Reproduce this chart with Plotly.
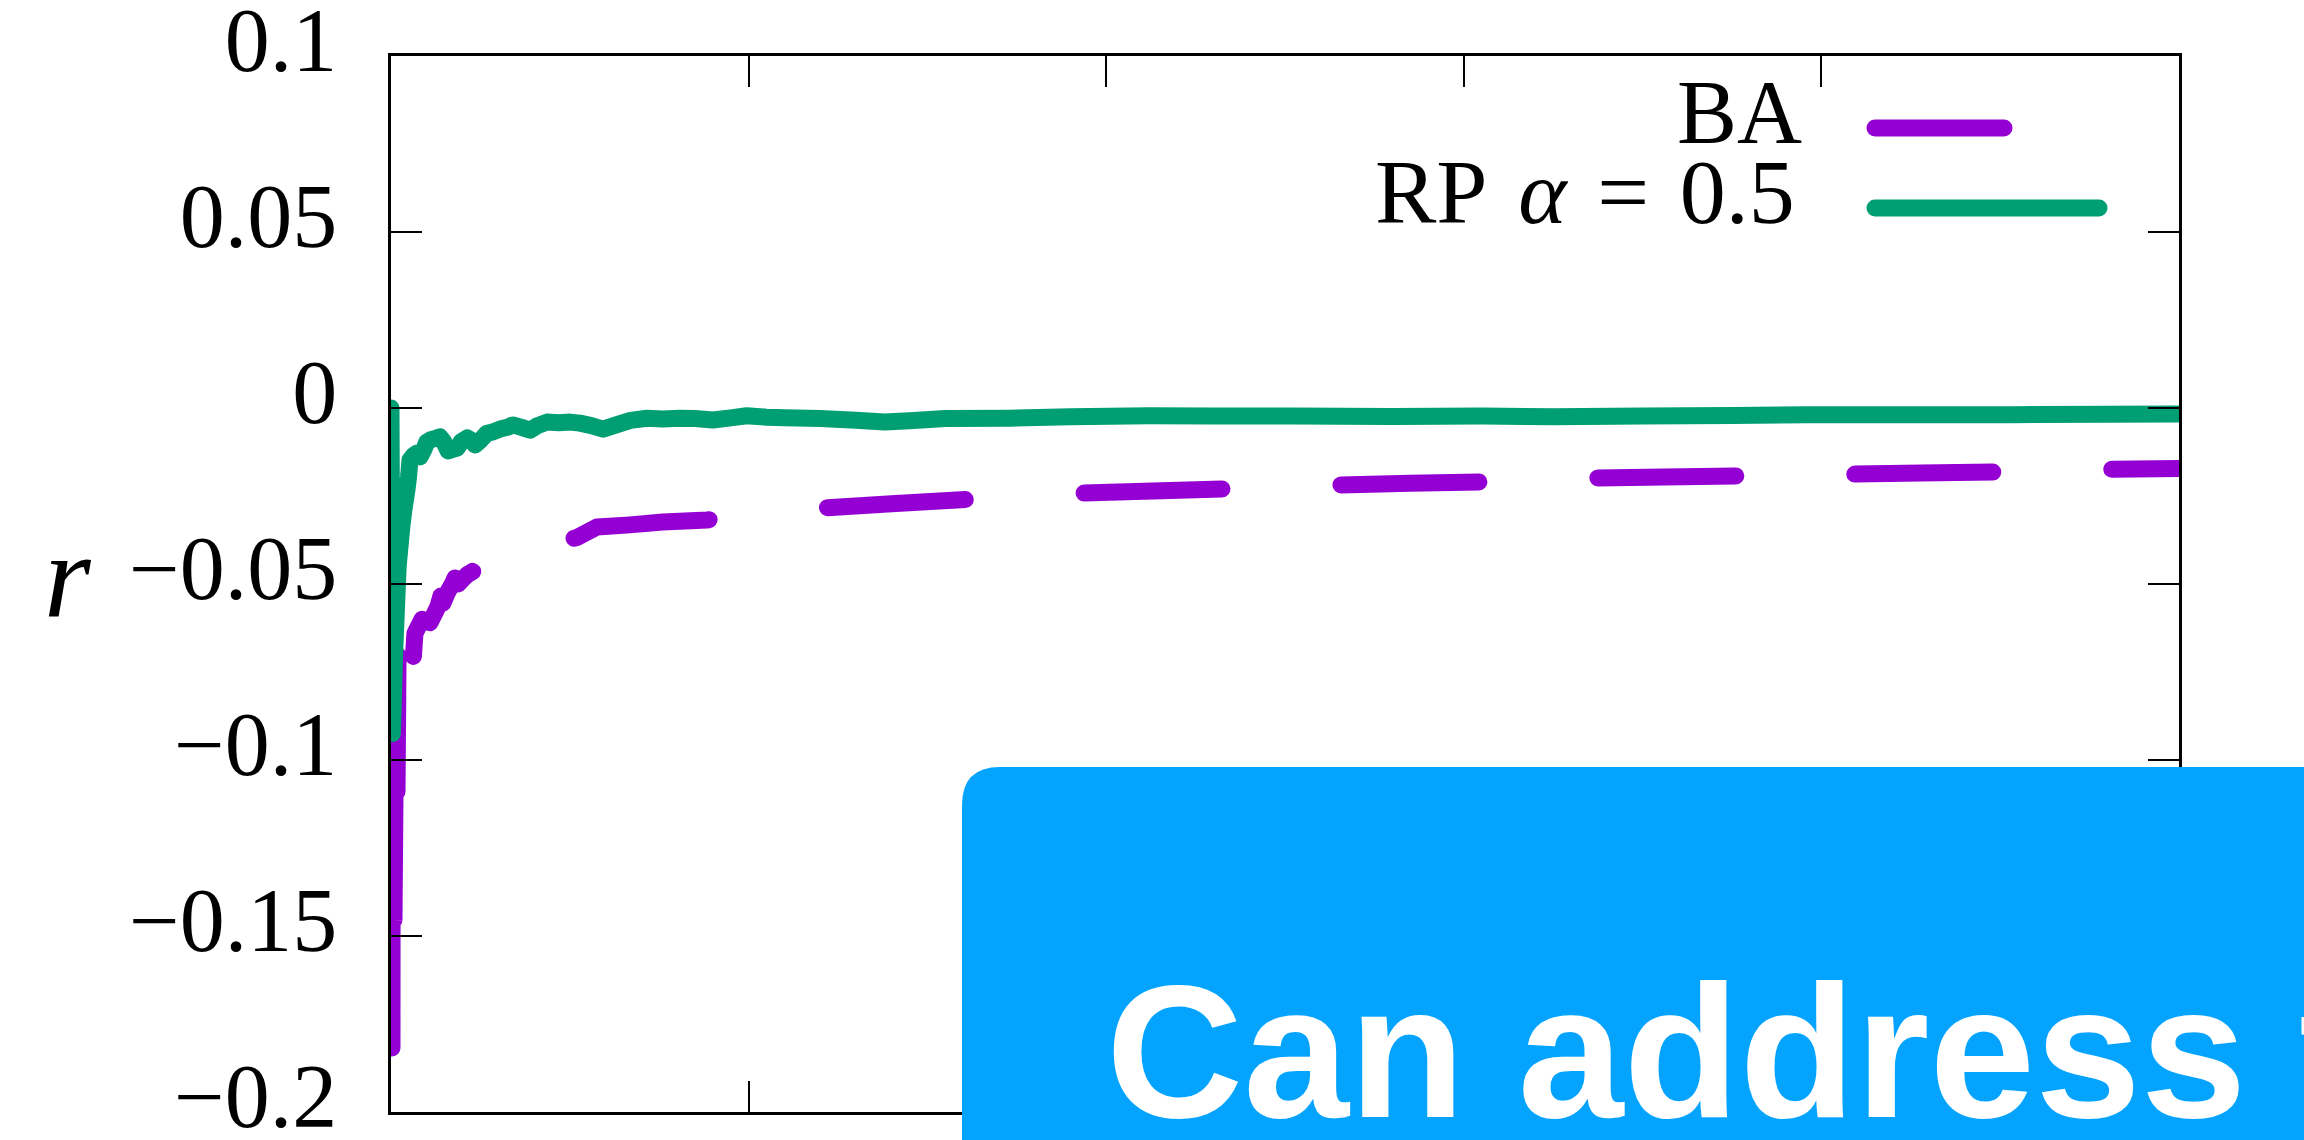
import plotly.graph_objects as go

# ---------------- data ----------------
x_ticks = [0, 1, 2, 3, 4, 5]
y_ticks = [-0.2, -0.15, -0.1, -0.05, 0, 0.05, 0.1]
y_ticktext = ["\u22120.2", "\u22120.15", "\u22120.1", "\u22120.05", "0", "0.05", "0.1"]

ba_x = [0.0028, 0.0030, 0.0056, 0.0084, 0.0112, 0.0140, 0.0168, 0.0196, 0.0224, 0.0252,
        0.0615, 0.067, 0.087, 0.109, 0.131, 0.1398, 0.1454, 0.157, 0.173, 0.179, 0.1874,
        0.2125, 0.26, 0.33, 0.3468, 0.3607, 0.3747, 0.40, 0.47, 0.52, 0.576, 0.668, 0.76,
        0.884, 1.0, 1.1, 1.21, 1.4, 1.61, 1.8, 1.93, 2.13, 2.33, 2.5, 2.64, 2.85, 3.05,
        3.2, 3.36, 3.56, 3.76, 3.9, 4.08, 4.28, 4.48, 4.65, 4.80, 5.0]
ba_y = [-0.1818, -0.1455, -0.1270, -0.1455, -0.1090, -0.0906, -0.1090, -0.0727, -0.0574, -0.0727,
        -0.0724, -0.064, -0.060, -0.061, -0.0565, -0.0534, -0.0554, -0.0526, -0.0497, -0.0483, -0.0500,
        -0.0474, -0.0445, -0.0415, -0.0410, -0.0378, -0.0402, -0.0395, -0.038, -0.0368, -0.0338, -0.0332, -0.0324,
        -0.0318, -0.0305, -0.0295, -0.0284, -0.0272, -0.026, -0.025, -0.0242, -0.0236, -0.023, -0.0224, -0.0219, -0.0214, -0.021,
        -0.0205, -0.0199, -0.0196, -0.0193, -0.019, -0.0188, -0.0185, -0.0182, -0.0178, -0.0174, -0.0172]

rp_x = [0, 0.004, 0.010, 0.020, 0.030, 0.036, 0.045, 0.049, 0.053, 0.063, 0.073, 0.081,
        0.092, 0.100, 0.112, 0.125, 0.137, 0.147, 0.160, 0.172, 0.185, 0.197, 0.213,
        0.225, 0.235, 0.25, 0.268, 0.285, 0.305, 0.325, 0.341, 0.365, 0.389, 0.41,
        0.436, 0.47, 0.50, 0.528, 0.56, 0.593, 0.63, 0.67, 0.716, 0.76, 0.808, 0.85,
        0.90, 0.95, 0.995, 1.05, 1.1, 1.2, 1.3, 1.38, 1.45, 1.55, 1.73, 1.9, 2.12,
        2.3, 2.52, 2.8, 3.05, 3.25, 3.5, 3.75, 3.96, 4.25, 4.53, 4.8, 5.0]
rp_y = [0, -0.0925, -0.070, -0.045, -0.034, -0.029, -0.023, -0.0196, -0.0148, -0.0135, -0.0128, -0.0139,
        -0.0118, -0.0097, -0.0090, -0.0086, -0.0082, -0.0095, -0.0122, -0.0118, -0.0114, -0.0095, -0.0085,
        -0.0092, -0.0105, -0.0092, -0.0072, -0.0068, -0.0060, -0.0055, -0.0048, -0.0055, -0.0063, -0.0050,
        -0.0040, -0.0042, -0.0040, -0.0043, -0.0050, -0.0060, -0.0048, -0.0035, -0.0029, -0.0031, -0.0029, -0.0030,
        -0.0034, -0.0028, -0.0022, -0.0026, -0.0028, -0.0030, -0.0035, -0.0040, -0.0036, -0.0030, -0.0029, -0.0025, -0.0022,
        -0.0023, -0.0023, -0.0024, -0.0023, -0.0025, -0.0023, -0.0021, -0.0019, -0.0019, -0.0019, -0.0018, -0.0017]

legend_labels = ["BA", "RP\u2004<i>\u03b1</i>\u2004=\u20040.5"]
overlay_text = "Can address the"

# ---------------- style ----------------
PURPLE = "#9400D3"
GREEN = "#009E73"
BLUE = "#03A3FE"
SERIF = "Liberation Serif"
LW = 17

W, H = 2304, 1140
L, R, T, B = 391, 2179, 56, 1112


def px_x(p):
    return (p - L) / (R - L)


def px_y(p):
    return (B - p) / (B - T)


fig = go.Figure()
fig.add_trace(go.Scatter(x=ba_x, y=ba_y, mode="lines", name="BA",
                         line=dict(color=PURPLE, width=LW, dash="138px,119px", simplify=False)))
fig.add_trace(go.Scatter(x=rp_x, y=rp_y, mode="lines", name="RP alpha = 0.5",
                         line=dict(color=GREEN, width=LW, simplify=False)))

axis_common = dict(showline=True, linecolor="black", linewidth=2.5, mirror="allticks",
                   ticks="inside", ticklen=31, tickwidth=2, tickcolor="black",
                   showgrid=False, zeroline=False, automargin=False)

fig.update_xaxes(range=[0, 5], tickvals=x_ticks, showticklabels=False, **axis_common)
fig.update_yaxes(range=[-0.2, 0.1], tickvals=y_ticks, ticktext=y_ticktext,
                 tickfont=dict(family=SERIF, size=90, color="black"),
                 ticklabelstandoff=33, ticklabelshift=-17, ticklabeloverflow="allow",
                 **axis_common)

shapes = []
# legend keys
shapes.append(dict(type="line", xref="paper", yref="paper",
                   x0=px_x(1875), x1=px_x(2004), y0=px_y(128), y1=px_y(128),
                   line=dict(color=PURPLE, width=LW)))
shapes.append(dict(type="line", xref="paper", yref="paper",
                   x0=px_x(1875), x1=px_x(2099), y0=px_y(208), y1=px_y(208),
                   line=dict(color=GREEN, width=LW)))
# overlay box with rounded top-left corner
bl, bt, br, bb = px_x(962), px_y(767), px_x(2400), px_y(1200)
rx, ry = 38 / (R - L), 38 / (B - T)
path = (f"M {bl},{bb} L {bl},{bt - ry} Q {bl},{bt} {bl + rx},{bt} "
        f"L {br},{bt} L {br},{bb} Z")
shapes.append(dict(type="path", xref="paper", yref="paper", path=path,
                   fillcolor=BLUE, line=dict(width=0), layer="above"))

annotations = [
    dict(text=legend_labels[0], xref="paper", yref="paper", x=px_x(1804), y=px_y(113),
         xanchor="right", yanchor="middle", showarrow=False,
         font=dict(family=SERIF, size=90, color="black")),
    dict(text=legend_labels[1], xref="paper", yref="paper", x=px_x(1797), y=px_y(192),
         xanchor="right", yanchor="middle", showarrow=False,
         font=dict(family=SERIF, size=92, color="black")),
    dict(text="<i>r</i>", xref="paper", yref="paper", x=px_x(68), y=px_y(576),
         xanchor="center", yanchor="middle", showarrow=False,
         font=dict(family=SERIF, size=120, color="black")),
    dict(text=overlay_text, xref="paper", yref="paper", x=px_x(1104), y=px_y(1051),
         xanchor="left", yanchor="middle", showarrow=False,
         font=dict(family="Liberation Sans", size=190, color="white", weight="bold")),
]

fig.update_layout(width=W, height=H, showlegend=False,
                  margin=dict(l=L, r=W - R, t=T, b=H - B, autoexpand=False),
                  paper_bgcolor="white", plot_bgcolor="white",
                  shapes=shapes, annotations=annotations)

post = """
var gd = document.getElementById('{plot_id}');
gd.querySelectorAll('.scatterlayer .js-line, .shapelayer path').forEach(function(p){
  p.style.strokeLinecap = 'round';
  p.style.strokeLinejoin = 'round';
});
"""

fig.write_html("out.html", config={"displayModeBar": False}, post_script=post)
